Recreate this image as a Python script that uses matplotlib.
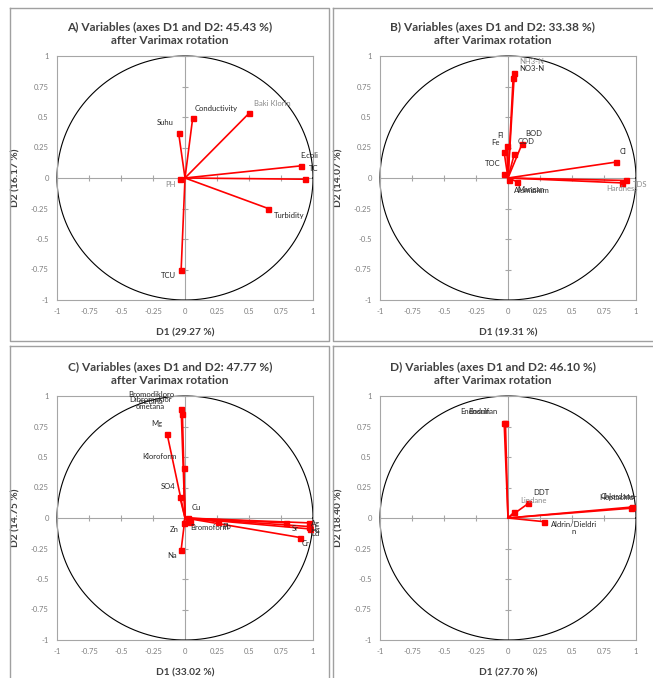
import numpy as np
import matplotlib.pyplot as plt
from matplotlib.lines import Line2D

plt.rcParams['font.family'] = ['Lato', 'DejaVu Sans']

W, H = 653, 678

# --- data (loadings after Varimax rotation) ---
a_names = ['Suhu', 'Conductivity', 'Baki Klorin', 'E.coli', 'TC', 'PH', 'Turbidity', 'TCU']
a_d1 = [-0.05, 0.06, 0.50, 0.91, 0.94, -0.04, 0.65, -0.03]
a_d2 = [0.37, 0.49, 0.53, 0.10, -0.01, -0.01, -0.25, -0.75]
a_pct = (45.43, 29.27, 16.17)

b_names = ['NH3-N', 'NO3-N', 'BOD', 'COD', 'Fl', 'Fe', 'TOC', 'Cl', 'TDS',
           'Hardness', 'Aluminium', 'Mangan']
b_d1 = [0.05, 0.04, 0.11, 0.05, -0.01, -0.03, -0.03, 0.84, 0.92, 0.89, 0.07, 0.01]
b_d2 = [0.86, 0.82, 0.28, 0.20, 0.26, 0.21, 0.03, 0.13, -0.02, -0.04, -0.03, -0.02]
b_pct = (33.38, 19.31, 14.07)

c_names = ['Bromodikloro\nmetana', 'Dibromoklor\nometana', 'Mg', 'Kloroform', 'SO4',
           'Cu', 'Zn', 'Na', 'Bromoform', 'Pb', 'Sr', 'Cr', 'Ag', 'Hg', 'Cd']
c_d1 = [-0.03, -0.02, -0.14, -0.01, -0.04, 0.02, -0.01, -0.03, 0.04, 0.26,
        0.79, 0.90, 0.97, 0.97, 0.98]
c_d2 = [0.89, 0.85, 0.69, 0.41, 0.17, 0.00, -0.04, -0.26, -0.03, -0.03,
        -0.04, -0.16, -0.04, -0.07, -0.09]
c_pct = (47.77, 33.02, 14.75)

d_names = ['Endosulfan', 'Endrin', 'DDT', 'Lindane', 'Chlordane', 'Heptachlor',
           'Aldrin/Dieldri\nn']
d_d1 = [-0.03, -0.02, 0.16, 0.05, 0.97, 0.96, 0.28]
d_d2 = [0.78, 0.78, 0.12, 0.05, 0.09, 0.08, -0.03]
d_pct = (46.10, 27.70, 18.40)

ticks = [-1, -0.75, -0.5, -0.25, 0, 0.25, 0.5, 0.75, 1]
tick_labels = ['-1', '-0.75', '-0.5', '-0.25', '0', '0.25', '0.5', '0.75', '1']

# label offsets in pixels (layout only)
offsets = {
    'Suhu': (-13, 10), 'Conductivity': (23, 10), 'Baki Klorin': (23, 10),
    'E.coli': (8, 10), 'TC': (8, 11), 'PH': (-9, -5), 'Turbidity': (21, -7),
    'TCU': (-13, -6),
    'NH3-N': (17, 12), 'NO3-N': (19, 9), 'BOD': (12, 10), 'COD': (12, 12),
    'Fl': (-6, 11), 'Fe': (-9, 10), 'TOC': (-11, 11), 'Cl': (7, 11),
    'TDS': (14, -4), 'Hardness': (0, -6), 'Aluminium': (15, -9), 'Mangan': (22, -9),
    'Bromodikloro\nmetana': (-30, 11), 'Dibromoklor\nometana': (-32, 11),
    'Mg': (-10, 10), 'Kloroform': (-24, 11), 'SO4': (-12, 11), 'Cu': (9, 11),
    'Zn': (-9, -7), 'Na': (-9, -6), 'Bromoform': (20, -6), 'Pb': (8, -5),
    'Sr': (9, -6), 'Cr': (5, -6), 'Ag': (6, -1), 'Hg': (6, -3), 'Cd': (5, -5),
    'Endosulfan': (-25, 11), 'Endrin': (-26, 11), 'DDT': (13, 11),
    'Lindane': (19, 11), 'Chlordane': (-14, 11), 'Heptachlor': (-13, 11),
    'Aldrin/Dieldri\nn': (30, -6),
}
grey_labels = {'PH', 'NH3-N', 'TDS', 'Hardness', 'Baki Klorin', 'Lindane'}

GRID = '#a6a6a6'


def px(x, y):
    return x / W, 1 - y / H


def panel(left, top, letter, names, d1, d2, pct, box_left):
    ax = fig.add_axes([left / W, 1 - (top + 244) / H, 256 / W, 244 / H])
    ax.set_xlim(-1, 1)
    ax.set_ylim(-1, 1)
    for s in ax.spines.values():
        s.set_color(GRID)
        s.set_linewidth(0.8)
    ax.set_xticks(ticks, tick_labels)
    ax.set_yticks(ticks, tick_labels)
    ax.tick_params(length=0, labelsize=5.5, labelcolor='#7f7f7f', pad=6)
    ax.axhline(0, color=GRID, lw=0.8, zorder=1)
    ax.axvline(0, color=GRID, lw=0.8, zorder=1)
    ax.plot(ticks, np.zeros(len(ticks)), ls='none', marker='|', ms=5,
            mew=0.8, color=GRID, zorder=1)
    ax.plot(np.zeros(len(ticks)), ticks, ls='none', marker='_', ms=5,
            mew=0.8, color=GRID, zorder=1)
    t = np.linspace(0, 2 * np.pi, 500)
    ax.plot(np.cos(t), np.sin(t), color='black', lw=0.8, zorder=2, clip_on=False)

    for n, x, y in zip(names, d1, d2):
        ax.plot([0, x], [0, y], color='red', lw=1.2, zorder=3)
        ax.plot(x, y, 's', color='red', ms=3.6, zorder=4)
        ax.annotate(n, (x, y), xytext=offsets[n], textcoords='offset pixels',
                    ha='center', va='center', fontsize=5.5, linespacing=1.0,
                    color='#8a8a8a' if n in grey_labels else '#262626', zorder=5)

    ax.set_xlabel('D1 (%.2f %%)' % pct[1], fontsize=7.3, fontweight='bold',
                  color='#404040')
    ax.set_ylabel('D2 (%.2f %%)' % pct[2], fontsize=7.3, fontweight='bold',
                  color='#404040')
    ax.xaxis.set_label_coords(0.5, -28 / 244)
    ax.yaxis.set_label_coords(-37 / 256, 0.5)

    cx = box_left + 160
    fig.text(*px(cx, top - 22), '%s) Variables (axes D1 and D2: %.2f %%)\nafter Varimax rotation'
             % (letter, pct[0]), ha='center', va='center', fontsize=8.6,
             fontweight='bold', color='#404040', linespacing=1.3)
    return ax


fig = plt.figure(figsize=(W / 100, H / 100), dpi=100)

panel(57, 56, 'A', a_names, a_d1, a_d2, a_pct, 10)
panel(380, 56, 'B', b_names, b_d1, b_d2, b_pct, 333)
panel(57, 396, 'C', c_names, c_d1, c_d2, c_pct, 10)
panel(380, 396, 'D', d_names, d_d1, d_d2, d_pct, 333)

# panel frames
BOX = '#a0a0a0'
for (x0, y0, x1, y1) in [(10, 8, 329, 341), (333, 8, 660, 341),
                         (10, 346, 329, 690), (333, 346, 660, 690)]:
    xs = [x0, x1, x1, x0, x0]
    ys = [y0, y0, y1, y1, y0]
    fig.add_artist(Line2D([x / W for x in xs], [1 - y / H for y in ys],
                          color=BOX, lw=1.0))

fig.savefig('out.png', dpi=100)
